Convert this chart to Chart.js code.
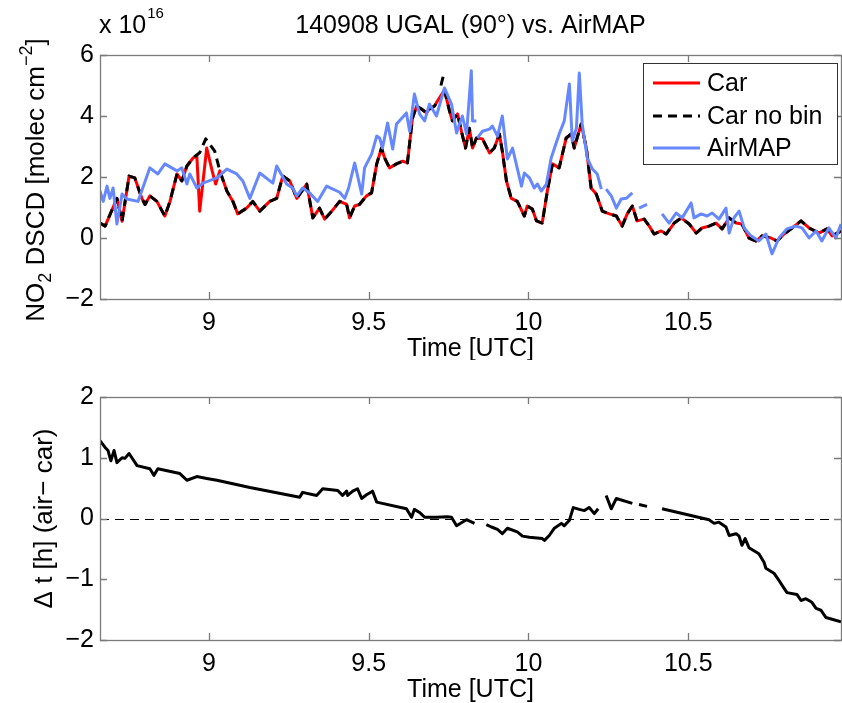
<!DOCTYPE html>
<html lang="en">
<head>
<meta charset="UTF-8">
<title>140908 UGAL (90°) vs. AirMAP</title>
<script src="https://cdn.jsdelivr.net/npm/chart.js"></script>
<style>
    body { margin: 0; background: #fff; width: 842px; height: 703px; overflow: hidden; position: relative; }
    canvas { position: absolute; left: 0; }
    #topChart { top: 0; }
    #bottomChart { top: 360px; }
</style>
</head>
<body>
<canvas id="topChart" width="842" height="360"></canvas>
<canvas id="bottomChart" width="842" height="343"></canvas>

<script>
    // ---- data (time in hours UTC, NO2 in 1e16 molec/cm2) ----
    const carTime = [8.659,8.675,8.712,8.728,8.750,8.768,8.790,8.800,8.815,8.837,8.862,8.878,8.900,8.915,8.931,8.950,8.962,8.971,8.993,9.010,9.021,9.034,9.056,9.075,9.090,9.118,9.137,9.159,9.190,9.212,9.231,9.253,9.275,9.306,9.325,9.346,9.362,9.378,9.409,9.431,9.440,9.456,9.471,9.493,9.509,9.525,9.540,9.550,9.565,9.587,9.606,9.621,9.637,9.650,9.665,9.681,9.690,9.706,9.715,9.737,9.753,9.762,9.778,9.790,9.803,9.815,9.825,9.837,9.856,9.878,9.893,9.909,9.918,9.931,9.946,9.965,9.987,9.996,10.012,10.025,10.043,10.059,10.075,10.096,10.118,10.134,10.143,10.165,10.181,10.196,10.212,10.231,10.253,10.275,10.293,10.309,10.325,10.340,10.362,10.378,10.393,10.415,10.431,10.456,10.478,10.503,10.525,10.543,10.565,10.587,10.606,10.628,10.650,10.668,10.690,10.712,10.731,10.759,10.778,10.800,10.825,10.853,10.878,10.909,10.934,10.950,10.978];
    const carNO2 = [0.49,0.39,1.3,0.55,2.03,1.97,1.3,1.1,1.38,1.2,0.72,1.2,2.1,1.87,2.36,2.62,2.7,0.88,2.95,2.2,1.77,2.2,1.54,1.2,0.79,0.98,1.2,0.88,1.2,1.3,2.03,1.87,1.3,1.77,0.66,0.98,0.62,0.8,1.2,1.1,0.66,1.05,1.1,1.38,1.48,2.43,2.95,2.62,2.3,2.43,2.52,2.46,3.93,4.33,4.23,4.1,4.23,4.33,4.49,4.85,4.16,3.84,4.07,3.5,2.95,3.6,2.95,3.28,3.25,2.79,2.95,3.41,2.85,1.87,1.3,1.2,0.72,1.05,0.95,0.56,0.49,1.54,2.43,2.3,3.28,3.41,2.95,3.74,2.95,1.64,1.44,0.88,0.79,0.72,0.39,0.79,1.05,0.56,0.62,0.39,0.13,0.23,0.13,0.49,0.66,0.46,0.16,0.33,0.39,0.49,0.3,0.66,0.49,0.46,0.0,-0.1,0.07,0.0,-0.1,0.13,0.33,0.56,0.33,0.16,0.3,0.07,0.23];

    const noBinTime = [8.659,8.675,8.712,8.728,8.750,8.768,8.790,8.800,8.815,8.837,8.862,8.878,8.900,8.915,8.931,8.950,8.971,8.990,9.018,9.034,9.056,9.075,9.090,9.118,9.137,9.159,9.190,9.212,9.231,9.253,9.275,9.306,9.325,9.346,9.362,9.378,9.409,9.431,9.440,9.456,9.471,9.493,9.509,9.525,9.540,9.550,9.565,9.587,9.606,9.621,9.637,9.650,9.665,9.681,9.690,9.706,9.715,9.720,9.726,9.733,9.735,9.737,9.753,9.762,9.778,9.790,9.803,9.815,9.825,9.837,9.856,9.878,9.893,9.909,9.918,9.931,9.946,9.965,9.987,9.996,10.012,10.025,10.043,10.059,10.075,10.096,10.118,10.134,10.143,10.165,10.181,10.196,10.212,10.231,10.253,10.275,10.293,10.309,10.325,10.340,10.362,10.378,10.393,10.415,10.431,10.456,10.478,10.503,10.525,10.543,10.565,10.587,10.606,10.628,10.650,10.668,10.690,10.712,10.731,10.759,10.778,10.800,10.825,10.853,10.878,10.909,10.934,10.950,10.978];
    const noBinNO2 = [0.49,0.39,1.3,0.55,2.03,1.97,1.3,1.1,1.38,1.2,0.72,1.2,2.1,1.87,2.36,2.62,2.8,3.25,2.85,2.2,1.54,1.2,0.79,0.98,1.2,0.88,1.2,1.3,2.03,1.87,1.3,1.77,0.66,0.98,0.62,0.8,1.2,1.1,0.66,1.05,1.1,1.38,1.48,2.43,2.95,2.62,2.3,2.43,2.52,2.46,3.93,4.33,4.23,4.1,4.23,4.33,4.49,null,5.0,5.3,null,4.85,4.16,3.84,4.07,3.5,2.95,3.6,2.95,3.28,3.25,2.79,2.95,3.41,2.85,1.87,1.3,1.2,0.72,1.05,0.95,0.56,0.49,1.54,2.43,2.3,3.28,3.41,2.95,3.74,2.95,1.64,1.44,0.88,0.79,0.72,0.39,0.79,1.05,0.56,0.62,0.39,0.13,0.23,0.13,0.49,0.66,0.46,0.16,0.33,0.39,0.49,0.3,0.66,0.49,0.46,0.0,-0.1,0.07,0.0,-0.1,0.13,0.33,0.56,0.33,0.16,0.3,0.07,0.23];

    const airTime = [8.659,8.669,8.681,8.690,8.700,8.712,8.728,8.743,8.778,8.815,8.840,8.862,8.900,8.915,8.931,8.940,8.962,8.981,9.025,9.056,9.087,9.106,9.128,9.159,9.200,9.212,9.243,9.262,9.275,9.293,9.315,9.340,9.368,9.409,9.425,9.437,9.456,9.478,9.487,9.509,9.525,9.534,9.543,9.559,9.575,9.587,9.618,9.628,9.643,9.659,9.675,9.690,9.712,9.737,9.759,9.775,9.784,9.793,9.806,9.821,9.825,9.837,9.838,9.840,9.856,9.878,9.887,9.903,9.918,9.934,9.950,9.978,9.987,10.003,10.018,10.028,10.040,10.056,10.071,10.096,10.112,10.128,10.137,10.150,10.159,10.168,10.184,10.200,10.215,10.228,10.235,10.243,10.259,10.275,10.290,10.306,10.325,10.335,10.346,10.371,10.390,10.418,10.440,10.462,10.481,10.509,10.518,10.540,10.559,10.575,10.596,10.618,10.628,10.643,10.659,10.675,10.696,10.721,10.743,10.762,10.784,10.809,10.837,10.856,10.878,10.900,10.918,10.940,10.962,10.978];
    const airNO2 = [1.54,1.2,1.7,1.3,1.64,0.46,1.44,1.28,1.2,2.3,2.1,2.43,2.2,2.3,1.77,2.1,1.64,1.8,1.97,2.26,2.1,1.87,1.3,2.13,1.8,2.36,1.77,1.64,1.38,1.64,1.48,1.2,1.7,1.5,1.3,1.64,2.46,1.44,2.3,2.75,3.34,3.28,2.95,3.77,2.92,3.74,4.1,3.5,4.72,4.07,3.84,4.39,4.0,4.92,4.39,3.44,3.74,4.0,3.41,5.48,3.84,3.84,null,3.28,3.5,3.57,3.67,3.34,4.0,2.59,2.95,1.7,2.13,1.97,1.64,1.77,1.54,1.77,2.62,3.41,3.84,5.05,3.18,3.6,5.41,3.74,2.62,2.26,2.1,1.6,null,1.6,1.38,0.98,1.28,1.3,1.48,null,0.98,1.1,null,0.79,0.49,0.82,0.66,1.15,0.66,0.79,0.72,0.82,0.62,0.98,0.16,0.66,0.88,0.33,0.07,-0.1,0.13,-0.52,0.0,0.3,0.39,0.33,0.0,0.23,-0.1,0.33,0.0,0.46];

    // time offset AirMAP - car, hours
    const dtTime = [8.659,8.675,8.684,8.693,8.703,8.712,8.728,8.737,8.750,8.775,8.815,8.828,8.840,8.909,8.931,8.962,8.993,9.025,9.128,9.284,9.293,9.337,9.356,9.403,9.418,9.431,9.434,9.450,9.465,9.478,9.493,9.512,9.525,9.618,9.634,9.643,9.659,9.675,9.712,9.746,9.759,9.775,9.790,9.806,9.831,9.850,9.868,9.884,9.903,9.918,9.934,9.965,9.981,10.003,10.043,10.050,10.065,10.081,10.103,10.112,10.128,10.140,10.159,10.175,10.190,10.206,10.218,10.230,10.243,10.259,10.275,10.325,10.335,10.346,10.371,10.390,10.418,10.565,10.581,10.596,10.618,10.628,10.650,10.659,10.668,10.678,10.690,10.721,10.737,10.743,10.768,10.784,10.800,10.809,10.840,10.853,10.868,10.887,10.900,10.915,10.931,10.978];
    const dtHours = [1.28,1.17,1.12,0.95,1.12,0.92,1.0,0.99,1.07,0.87,0.82,0.71,0.82,0.74,0.63,0.69,0.66,0.63,0.51,0.35,0.43,0.38,0.49,0.46,0.38,0.45,0.38,0.45,0.49,0.33,0.39,0.45,0.27,0.16,0.02,0.15,0.1,0.02,0.02,0.03,0.02,-0.12,-0.07,-0.02,-0.08,null,-0.1,-0.14,-0.18,-0.25,-0.16,-0.22,-0.29,-0.31,-0.33,-0.36,-0.28,-0.16,-0.08,-0.12,-0.03,0.18,0.15,0.13,0.18,0.08,0.16,null,0.38,0.16,0.33,0.25,null,0.23,0.2,null,0.16,-0.02,-0.08,-0.06,-0.14,-0.28,-0.25,-0.29,-0.44,-0.33,-0.48,-0.58,-0.72,-0.82,-0.9,-1.02,-1.15,-1.22,-1.25,-1.35,-1.32,-1.38,-1.48,-1.51,-1.63,-1.7];

    const timeTicks = [9, 9.5, 10, 10.5];
    const no2Ticks = [-2, 0, 2, 4, 6];
    const dtTicks = [-2, -1, 0, 1, 2];
    const timeRange = [8.659, 10.978];

    const FONT = '"Liberation Sans", Arial, sans-serif';
    const toPoints = (xs, ys) => xs.map((t, i) => ({x: t, y: ys[i]}));
    const minus = v => String(v).replace('-', '\u2212');

    // text made of pieces with sub/superscripts, optionally rotated
    function richText(ctx, parts, x, y, rotate) {
        ctx.save();
        ctx.translate(x, y);
        if (rotate) ctx.rotate(-Math.PI / 2);
        let w = 0;
        parts.forEach(p => {
            ctx.font = p.size + 'px ' + FONT;
            p.w = ctx.measureText(p.text).width;
            w += p.w;
        });
        let cx = -w / 2;
        ctx.textAlign = 'left';
        ctx.textBaseline = 'alphabetic';
        ctx.fillStyle = '#000';
        parts.forEach(p => {
            ctx.font = p.size + 'px ' + FONT;
            ctx.fillText(p.text, cx, p.dy || 0);
            cx += p.w;
        });
        ctx.restore();
    }

    // matlab style box with inward ticks, plus optional dashed zero line
    const boxAxes = {
        id: 'boxAxes',
        beforeDatasetsDraw(chart, args, opts) {
            if (!opts.zeroLine) return;
            const {ctx, chartArea: a, scales: {y}} = chart;
            const py = Math.round(y.getPixelForValue(0)) + 0.5;
            ctx.save();
            ctx.strokeStyle = '#000';
            ctx.lineWidth = 1;
            ctx.setLineDash([9, 6]);
            ctx.beginPath();
            ctx.moveTo(a.left, py);
            ctx.lineTo(a.right, py);
            ctx.stroke();
            ctx.restore();
        },
        afterDatasetsDraw(chart) {
            const {ctx, chartArea: a, scales: {x, y}} = chart;
            const L = 7;
            ctx.save();
            ctx.strokeStyle = '#7a7a7a';
            ctx.lineWidth = 1.3;
            ctx.strokeRect(a.left + 0.5, a.top + 0.5, a.right - a.left, a.bottom - a.top);
            ctx.beginPath();
            x.ticks.forEach(t => {
                const px = Math.round(x.getPixelForValue(t.value)) + 0.5;
                ctx.moveTo(px, a.bottom); ctx.lineTo(px, a.bottom - L);
                ctx.moveTo(px, a.top); ctx.lineTo(px, a.top + L);
            });
            y.ticks.forEach(t => {
                const py = Math.round(y.getPixelForValue(t.value)) + 0.5;
                ctx.moveTo(a.left, py); ctx.lineTo(a.left + L, py);
                ctx.moveTo(a.right, py); ctx.lineTo(a.right - L, py);
            });
            ctx.stroke();
            ctx.restore();
        }
    };

    function axisOptions(yTicks, xHeight) {
        const tickFont = {family: FONT, size: 25};
        return {
            x: {
                type: 'linear', min: timeRange[0], max: timeRange[1],
                afterFit: s => { s.height = xHeight; },
                afterBuildTicks: s => { s.ticks = timeTicks.map(v => ({value: v})); },
                grid: {display: false, drawTicks: false},
                border: {display: false},
                ticks: {font: tickFont, color: '#000', padding: 9, maxRotation: 0, callback: v => String(v)}
            },
            y: {
                min: yTicks[0], max: yTicks[yTicks.length - 1],
                afterFit: s => { s.width = 100; },
                afterBuildTicks: s => { s.ticks = yTicks.map(v => ({value: v})); },
                grid: {display: false, drawTicks: false},
                border: {display: false},
                ticks: {font: tickFont, color: '#000', padding: 6, callback: minus}
            }
        };
    }

    const topLabels = {
        id: 'topLabels',
        afterDraw(chart) {
            const {ctx, chartArea: a} = chart;
            const mid = (a.left + a.right) / 2;
            ctx.save();
            ctx.fillStyle = '#000';
            ctx.font = '25px ' + FONT;
            ctx.textAlign = 'center';
            ctx.textBaseline = 'alphabetic';
            ctx.fillText('140908 UGAL (90°) vs. AirMAP', mid, 33);
            ctx.fillText('Time [UTC]', mid, 356);
            ctx.textAlign = 'left';
            const w = ctx.measureText('x 10').width;
            ctx.fillText('x 10', a.left - 1, 33);
            ctx.font = '15px ' + FONT;
            ctx.fillText('16', a.left - 1 + w + 1, 18);

            // legend
            const bx = 643, by = 63, bw = 194, bh = 101;
            ctx.fillStyle = '#fff';
            ctx.fillRect(bx, by, bw, bh);
            ctx.strokeStyle = '#333';
            ctx.lineWidth = 1;
            ctx.strokeRect(bx + 0.5, by + 0.5, bw, bh);
            const rows = [20, 53, 85];
            chart.data.datasets.forEach((ds, i) => {
                const ry = by + rows[i];
                ctx.save();
                ctx.strokeStyle = ds.borderColor;
                ctx.lineWidth = ds.borderWidth;
                ctx.setLineDash(ds.borderDash || []);
                ctx.beginPath();
                ctx.moveTo(bx + 10, ry);
                ctx.lineTo(bx + 57, ry);
                ctx.stroke();
                ctx.restore();
                ctx.fillStyle = '#000';
                ctx.font = '25px ' + FONT;
                ctx.textBaseline = 'middle';
                ctx.fillText(ds.label, bx + 64, ry + 1);
            });
            ctx.restore();

            richText(ctx, [
                {text: 'NO', size: 26},
                {text: '2', size: 18, dy: 7},
                {text: ' DSCD [molec cm', size: 26},
                {text: '\u22122', size: 18, dy: -12},
                {text: ']', size: 26}
            ], 44, 180, true);
        }
    };

    const bottomLabels = {
        id: 'bottomLabels',
        afterDraw(chart) {
            const {ctx, chartArea: a} = chart;
            ctx.save();
            ctx.fillStyle = '#000';
            ctx.font = '25px ' + FONT;
            ctx.textAlign = 'center';
            ctx.fillText('Time [UTC]', (a.left + a.right) / 2, 337);
            ctx.restore();
            richText(ctx, [{text: '\u0394 t [h] (air\u2212 car)', size: 26}], 52, (a.top + a.bottom) / 2, true);
        }
    };

    new Chart(document.getElementById('topChart'), {
        type: 'line',
        data: {
            datasets: [
                {label: 'Car', data: toPoints(carTime, carNO2), borderColor: '#ff0000', borderWidth: 3, order: 2},
                {label: 'Car no bin', data: toPoints(noBinTime, noBinNO2), borderColor: '#000000', borderWidth: 3, borderDash: [9, 6], order: 1},
                {label: 'AirMAP', data: toPoints(airTime, airNO2), borderColor: '#6688ff', borderWidth: 3, order: 0}
            ]
        },
        options: {
            responsive: false,
            animation: false,
            layout: {padding: {top: 55, right: 1, left: 0, bottom: 0}},
            elements: {point: {radius: 0}, line: {tension: 0, borderJoinStyle: 'round'}},
            plugins: {legend: {display: false}, tooltip: {enabled: false}, boxAxes: {zeroLine: false}},
            scales: axisOptions(no2Ticks, 61)
        },
        plugins: [boxAxes, topLabels]
    });

    new Chart(document.getElementById('bottomChart'), {
        type: 'line',
        data: {
            datasets: [
                {label: 'dt', data: toPoints(dtTime, dtHours), borderColor: '#000000', borderWidth: 3}
            ]
        },
        options: {
            responsive: false,
            animation: false,
            layout: {padding: {top: 37, right: 1, left: 0, bottom: 0}},
            elements: {point: {radius: 0}, line: {tension: 0, borderJoinStyle: 'round'}},
            plugins: {legend: {display: false}, tooltip: {enabled: false}, boxAxes: {zeroLine: true}},
            scales: axisOptions(dtTicks, 63)
        },
        plugins: [boxAxes, bottomLabels]
    });
</script>
</body>
</html>
